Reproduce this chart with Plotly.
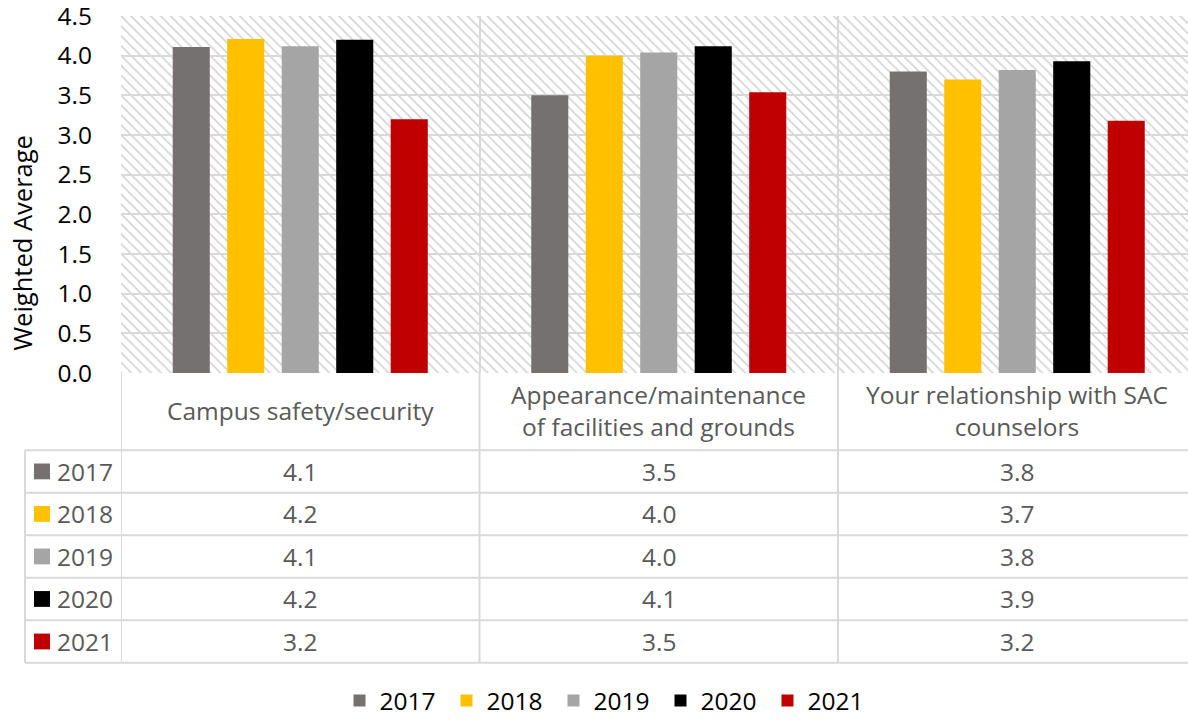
import plotly.graph_objects as go

categories = ["Campus safety/security",
              "Appearance/maintenance of facilities and grounds",
              "Your relationship with SAC counselors"]
category_labels = ["Campus safety/security",
                   "Appearance/maintenance<br>of facilities and grounds",
                   "Your relationship with SAC<br>counselors"]
years = ["2017", "2018", "2019", "2020", "2021"]
v2017 = [4.11, 3.50, 3.80]
v2018 = [4.21, 4.00, 3.70]
v2019 = [4.12, 4.04, 3.82]
v2020 = [4.20, 4.12, 3.93]
v2021 = [3.20, 3.54, 3.18]
series = [v2017, v2018, v2019, v2020, v2021]
colors = ["#767171", "#FFC000", "#A5A5A5", "#000000", "#C00000"]
y_ticks = [0.0, 0.5, 1.0, 1.5, 2.0, 2.5, 3.0, 3.5, 4.0, 4.5]

W_PX, H_PX = 1188, 723
L, R, T, B = 121, 0, 16, 346
PW = W_PX - L - R
PH = H_PX - T - B
BOT = H_PX - B
CAT_PX = 358.5  # visible width of one category (the last one is cut at the right edge)

def xp(px):
    return (px - L) / PW

def yp(py):
    return (BOT - py) / PH

FONT = "'Open Sans', 'Noto Sans', sans-serif"
FS = 24.5
GRID = "#D9D9D9"
TXT = "#595959"

fig = go.Figure()

# hatched plot-area background (decoration only)
fig.add_trace(go.Bar(x=[0], y=[1], base=[0], width=[1], offset=0,
                     marker=dict(color="white", line=dict(width=0),
                                 pattern=dict(shape="\\", size=7, solidity=0.22,
                                              fgcolor="#CFCFCF", fillmode="replace")),
                     xaxis="x", yaxis="y", showlegend=False, hoverinfo="skip"))

for yr, vals, col in zip(years, series, colors):
    fig.add_trace(go.Bar(x=categories, y=vals, name=yr,
                         marker=dict(color=col, line=dict(width=0)),
                         xaxis="x2", yaxis="y2"))

shapes = []
annotations = []

# table lines
row_edges = [455, 498, 541, 584, 627, 670]
for py in row_edges:
    shapes.append(dict(type="line", xref="paper", yref="paper", x0=xp(25), x1=xp(W_PX),
                       y0=yp(py), y1=yp(py), line=dict(color=GRID, width=2)))
shapes.append(dict(type="line", xref="paper", yref="paper", x0=xp(25), x1=xp(25),
                   y0=yp(455), y1=yp(670), line=dict(color=GRID, width=2)))
for i in range(len(categories)):
    shapes.append(dict(type="line", xref="x2", yref="paper", x0=i - 0.5, x1=i - 0.5,
                       y0=yp(670), y1=0, line=dict(color=GRID, width=2)))

# category labels
for c, lab in zip(categories, category_labels):
    annotations.append(dict(x=c, xref="x2", y=yp(415), yref="paper", text=lab,
                            showarrow=False, font=dict(size=FS, color=TXT, family=FONT),
                            xanchor="center", yanchor="middle"))

# table rows
for r, (yr, vals, col) in enumerate(zip(years, series, colors)):
    cy = (row_edges[r] + row_edges[r + 1]) / 2
    shapes.append(dict(type="rect", xref="paper", yref="paper", x0=xp(34), x1=xp(50),
                       y0=yp(cy + 8), y1=yp(cy - 8), fillcolor=col, line=dict(width=0)))
    annotations.append(dict(x=xp(55), xref="paper", y=yp(cy), yref="paper", text=yr,
                            showarrow=False, font=dict(size=FS, color=TXT, family=FONT),
                            xanchor="left", yanchor="middle"))
    for c, v in zip(categories, vals):
        annotations.append(dict(x=c, xref="x2", y=yp(cy), yref="paper", text=f"{v:.1f}",
                                showarrow=False, font=dict(size=FS, color=TXT, family=FONT),
                                xanchor="center", yanchor="middle"))

# y-axis title
annotations.append(dict(x=xp(22), xref="paper", y=yp(246), yref="paper", text="Weighted Average",
                        textangle=-90, showarrow=False,
                        font=dict(size=25.5, color="#000000", family=FONT),
                        xanchor="center", yanchor="middle"))

fig.update_layout(
    width=W_PX, height=H_PX,
    margin=dict(l=L, r=R, t=T, b=B, pad=0),
    paper_bgcolor="white", plot_bgcolor="rgba(0,0,0,0)",
    font=dict(family=FONT, size=FS, color="#000000"),
    barmode="group", bargap=0.24, bargroupgap=0.32,
    xaxis=dict(domain=[0, 1], range=[0, 1], visible=False, fixedrange=True),
    yaxis=dict(domain=[0, 1], range=[0, 1], visible=False, fixedrange=True),
    xaxis2=dict(domain=[0, 1], anchor="y2", showticklabels=False, ticks="",
                range=[-0.5, -0.5 + PW / CAT_PX],
                showgrid=True, gridcolor=GRID, gridwidth=2, tickson="boundaries",
                showline=False, zeroline=False),
    yaxis2=dict(domain=[0, 1], anchor="x2", range=[0, 4.5], tickvals=y_ticks,
                ticktext=[f"{t:.1f}" for t in y_ticks],
                showgrid=True, gridcolor=GRID, gridwidth=2, zeroline=False,
                showline=False, ticklabelstandoff=28, ticklabeloverflow="allow",
                tickfont=dict(size=FS, color="#000000", family=FONT)),
    legend=dict(orientation="h", x=xp(607), xanchor="center", y=yp(709), yanchor="middle",
                font=dict(size=FS, color="#000000", family=FONT), traceorder="normal",
                entrywidth=62, entrywidthmode="pixels", itemwidth=30),
    shapes=shapes, annotations=annotations,
)

fig.write_html(
    "out.html",
    config={"displayModeBar": False},
    post_script=("var h=document.documentElement,b=document.body;"
                 "[h,b].forEach(function(e){e.style.margin='0px';e.style.padding='0px';"
                 "e.style.overflow='hidden';});"),
)
